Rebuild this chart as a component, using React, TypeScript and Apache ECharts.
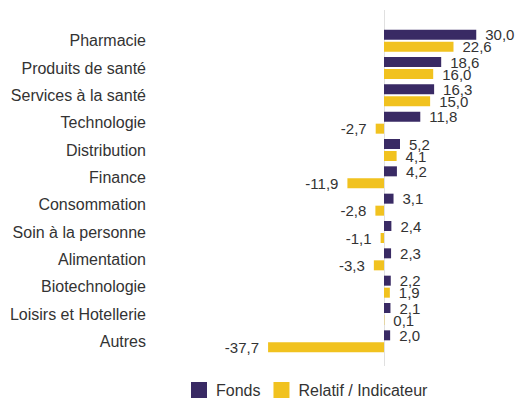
import React, { useEffect, useRef } from "react";
import * as echarts from "echarts";

const categories = [
  "Pharmacie",
  "Produits de santé",
  "Services à la santé",
  "Technologie",
  "Distribution",
  "Finance",
  "Consommation",
  "Soin à la personne",
  "Alimentation",
  "Biotechnologie",
  "Loisirs et Hotellerie",
  "Autres",
];
const fonds = [30.0, 18.6, 16.3, 11.8, 5.2, 4.2, 3.1, 2.4, 2.3, 2.2, 2.1, 2.0];
const relatif = [22.6, 16.0, 15.0, -2.7, 4.1, -11.9, -2.8, -1.1, -3.3, 1.9, 0.1, -37.7];
const seriesNames = ["Fonds", "Relatif / Indicateur"];

const fmt = (v: number) => v.toFixed(1).replace(".", ",");
const FONT = "Arial";

const mkData = (arr: number[]) =>
  arr.map((v) => ({
    value: v,
    label: { position: v < 0 ? "left" : "right" },
  }));

export default function App() {
  const ref = useRef<HTMLDivElement>(null);
  useEffect(() => {
    const chart = echarts.init(ref.current!, null, { renderer: "svg" });
    const labelCfg = {
      show: true,
      distance: 9,
      color: "#333",
      fontSize: 15,
      fontFamily: FONT,
      formatter: (p: any) => fmt(p.value),
    };
    chart.setOption({
      animation: false,
      textStyle: { fontFamily: FONT },
      grid: { left: 261, right: 8, top: 27, bottom: 48, containLabel: false },
      legend: {
        bottom: 0,
        left: 186,
        itemWidth: 16,
        itemHeight: 16,
        itemGap: 13,
        icon: "rect",
        textStyle: {
          fontSize: 16,
          color: "#333",
          fontFamily: FONT,
          padding: [0, 0, 0, 4],
        },
        data: seriesNames,
      },
      xAxis: {
        type: "value",
        min: -40,
        max: 40,
        show: false,
      },
      yAxis: {
        type: "category",
        data: categories,
        inverse: true,
        axisLine: { show: false, onZero: false },
        axisTick: { show: false },
        axisLabel: {
          margin: 115,
          fontSize: 16,
          color: "#333",
          fontFamily: FONT,
        },
      },
      series: [
        {
          name: seriesNames[0],
          type: "bar",
          data: mkData(fonds),
          barWidth: 10,
          barGap: "20%",
          itemStyle: { color: "#392A64" },
          label: labelCfg,
          z: 3,
        },
        {
          name: seriesNames[1],
          type: "bar",
          data: mkData(relatif),
          barWidth: 10,
          itemStyle: { color: "#F1C21F" },
          label: labelCfg,
          z: 3,
        },
      ],
    });
    const x0 = Math.round(chart.convertToPixel({ xAxisIndex: 0 }, 0)) + 0.5;
    chart.setOption({
      graphic: [
        {
          type: "line",
          z: 1,
          shape: { x1: x0, y1: 10, x2: x0, y2: 366 },
          style: { stroke: "#E0E0E0", lineWidth: 1 },
          silent: true,
        },
      ],
    });
    return () => chart.dispose();
  }, []);
  return (
    <div
      ref={ref}
      style={{ position: "absolute", left: 0, top: 0, width: 515, height: 403 }}
    />
  );
}
